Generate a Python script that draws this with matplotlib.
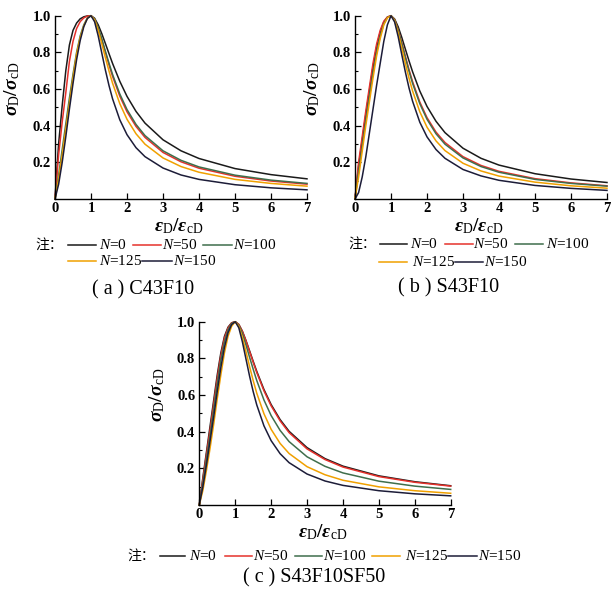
import numpy as np
import matplotlib
matplotlib.use('Agg')
import matplotlib.pyplot as plt
from matplotlib.lines import Line2D
from matplotlib.ticker import FormatStrFormatter

plt.rcParams['font.family'] = ['Liberation Serif', 'Noto Sans CJK SC']
plt.rcParams['mathtext.fontset'] = 'custom'
plt.rcParams['mathtext.rm'] = 'Liberation Serif'
plt.rcParams['mathtext.it'] = 'Liberation Serif:italic'
plt.rcParams['mathtext.bf'] = 'Liberation Serif:bold'
plt.rcParams['mathtext.bfit'] = 'Liberation Serif:bold:italic'

# strain ratio eps_D/eps_cD
x = [0, 0.1, 0.2, 0.3, 0.4, 0.5, 0.6, 0.7, 0.8, 0.9, 1.0,
     1.1, 1.2, 1.3, 1.4, 1.5, 1.6, 1.8, 2.0, 2.25, 2.5, 3.0, 3.5, 4.0, 5.0, 6.0, 7.0]

labels = ['N=0', 'N=50', 'N=100', 'N=125', 'N=150']
colors = ['#1a1a1a', '#e5312b', '#3f6e4c', '#f0a000', '#1c1c38']

# (a) C43F10
c_n0 = [0, 0.30, 0.51, 0.70, 0.84, 0.92, 0.96, 0.983, 0.994, 0.999, 1.0,
        0.986, 0.950, 0.902, 0.848, 0.793, 0.739, 0.642, 0.560, 0.478, 0.414, 0.323, 0.263, 0.221, 0.166, 0.133, 0.110]
c_n50 = [0, 0.24, 0.42, 0.58, 0.75, 0.86, 0.93, 0.968, 0.988, 0.998, 1.0,
         0.980, 0.932, 0.868, 0.799, 0.732, 0.669, 0.561, 0.476, 0.396, 0.336, 0.254, 0.203, 0.168, 0.124, 0.098, 0.081]
c_n100 = [0, 0.13, 0.27, 0.41, 0.55, 0.68, 0.80, 0.89, 0.95, 0.988, 1.0,
          0.981, 0.935, 0.873, 0.806, 0.741, 0.679, 0.573, 0.488, 0.407, 0.346, 0.263, 0.211, 0.175, 0.130, 0.103, 0.085]
c_n125 = [0, 0.11, 0.24, 0.38, 0.52, 0.66, 0.79, 0.88, 0.945, 0.986, 1.0,
          0.977, 0.920, 0.847, 0.771, 0.698, 0.631, 0.520, 0.435, 0.356, 0.299, 0.224, 0.177, 0.146, 0.107, 0.085, 0.070]
c_n150 = [0, 0.08, 0.20, 0.34, 0.49, 0.63, 0.76, 0.865, 0.94, 0.985, 1.0,
          0.967, 0.890, 0.796, 0.703, 0.619, 0.546, 0.432, 0.351, 0.280, 0.231, 0.169, 0.131, 0.107, 0.078, 0.061, 0.050]

# (b) S43F10
s_n0 = [0, 0.18, 0.32, 0.46, 0.59, 0.72, 0.83, 0.91, 0.965, 0.992, 1.0,
        0.982, 0.939, 0.881, 0.817, 0.754, 0.694, 0.589, 0.505, 0.424, 0.362, 0.277, 0.222, 0.185, 0.138, 0.109, 0.090]
s_n50 = [0, 0.20, 0.34, 0.48, 0.61, 0.74, 0.845, 0.92, 0.97, 0.993, 1.0,
         0.978, 0.923, 0.852, 0.778, 0.706, 0.640, 0.529, 0.444, 0.365, 0.308, 0.231, 0.183, 0.151, 0.111, 0.088, 0.072]
s_n100 = [0, 0.15, 0.29, 0.43, 0.56, 0.69, 0.80, 0.89, 0.955, 0.99, 1.0,
          0.977, 0.920, 0.847, 0.771, 0.698, 0.631, 0.520, 0.435, 0.356, 0.299, 0.224, 0.177, 0.146, 0.107, 0.085, 0.070]
s_n125 = [0, 0.12, 0.26, 0.40, 0.53, 0.66, 0.78, 0.875, 0.95, 0.988, 1.0,
          0.973, 0.906, 0.823, 0.738, 0.659, 0.589, 0.476, 0.392, 0.317, 0.264, 0.195, 0.153, 0.125, 0.092, 0.072, 0.059]
s_n150 = [0, 0.035, 0.12, 0.23, 0.36, 0.49, 0.62, 0.74, 0.86, 0.95, 1.0,
          0.966, 0.885, 0.787, 0.692, 0.606, 0.533, 0.419, 0.339, 0.270, 0.222, 0.161, 0.126, 0.102, 0.074, 0.058, 0.047]

# (c) S43F10SF50
f_n0 = [0, 0.15, 0.29, 0.43, 0.57, 0.71, 0.83, 0.92, 0.97, 0.994, 1.0,
        0.985, 0.948, 0.897, 0.841, 0.784, 0.729, 0.630, 0.548, 0.466, 0.402, 0.313, 0.253, 0.212, 0.159, 0.127, 0.105]
f_n50 = [0, 0.14, 0.275, 0.41, 0.55, 0.69, 0.815, 0.91, 0.965, 0.993, 1.0,
         0.985, 0.946, 0.895, 0.837, 0.779, 0.723, 0.623, 0.541, 0.459, 0.395, 0.306, 0.248, 0.207, 0.155, 0.124, 0.103]
f_n100 = [0, 0.12, 0.25, 0.38, 0.52, 0.66, 0.79, 0.89, 0.955, 0.99, 1.0,
          0.981, 0.935, 0.873, 0.806, 0.741, 0.679, 0.573, 0.488, 0.407, 0.346, 0.263, 0.211, 0.175, 0.130, 0.103, 0.085]
f_n125 = [0, 0.08, 0.19, 0.31, 0.44, 0.58, 0.71, 0.83, 0.92, 0.975, 1.0,
          0.975, 0.914, 0.836, 0.755, 0.679, 0.610, 0.498, 0.413, 0.336, 0.281, 0.209, 0.165, 0.135, 0.099, 0.078, 0.064]
f_n150 = [0, 0.10, 0.22, 0.35, 0.48, 0.62, 0.75, 0.86, 0.94, 0.984, 1.0,
          0.967, 0.890, 0.796, 0.703, 0.619, 0.546, 0.432, 0.351, 0.280, 0.231, 0.169, 0.131, 0.107, 0.078, 0.061, 0.050]

W, H = 613, 591
fig = plt.figure(figsize=(W / 100, H / 100), dpi=100)
fig.patch.set_facecolor('white')


def fx(p):
    return p / W


def fy(p):
    return 1 - p / H


def panel(box, curves):
    l, t, r, b = box
    ax = fig.add_axes([fx(l), fy(b), (r - l) / W, (b - t) / H])
    for ys, c in zip(curves, colors):
        ax.plot(x, ys, color=c, lw=1.1, clip_on=False)
    ax.set_xlim(0, 7)
    ax.set_ylim(0, 1)
    ax.set_xticks(range(8))
    ax.set_yticks([0.2, 0.4, 0.6, 0.8, 1.0])
    ax.set_yticks([0.1, 0.3, 0.5, 0.7, 0.9], minor=True)
    ax.yaxis.set_major_formatter(FormatStrFormatter('%.1f'))
    ax.tick_params(direction='in', length=4, width=0.9, labelsize=10.5, pad=3)
    ax.tick_params(axis='y', which='minor', direction='in', length=2.5, width=0.8)
    ax.tick_params(axis='x', pad=2)
    for lab in ax.get_xticklabels() + ax.get_yticklabels():
        lab.set_fontweight('bold')
    for s in ['top', 'right']:
        ax.spines[s].set_visible(False)
    for s in ['left', 'bottom']:
        ax.spines[s].set_linewidth(1.0)
    ax.set_ylabel(r'$\mathbfit{\sigma}_{\mathrm{D}}\mathbf{/}\mathbfit{\sigma}_{\mathrm{cD}}$', fontsize=14)
    ax.set_xlabel(r'$\mathbfit{\varepsilon}_{\mathrm{D}}\mathbf{/}\mathbfit{\varepsilon}_{\mathrm{cD}}$', fontsize=14)
    ax.yaxis.set_label_coords(-0.13, 0.6)
    ax.xaxis.set_label_coords(0.49, -0.095)
    return ax


def key(note_x, note_y, rows):
    fig.text(fx(note_x), fy(note_y), '注：', family=['Noto Sans CJK SC'], fontsize=10, va='center')
    for x0, x1, tx, yy, i in rows:
        fig.add_artist(Line2D([fx(x0), fx(x1)], [fy(yy), fy(yy)], color=colors[i], lw=1.1))
        n, v = labels[i].split('=')
        fig.text(fx(tx), fy(yy), r'$\mathit{N}$=' + v, fontsize=11, va='center')


panel((55, 15.7, 307, 199), [c_n0, c_n50, c_n100, c_n125, c_n150])
panel((355, 15.7, 607, 199), [s_n0, s_n50, s_n100, s_n125, s_n150])
panel((199.3, 321.7, 450.7, 505), [f_n0, f_n50, f_n100, f_n125, f_n150])

key(35, 245, [(68, 96, 99, 245, 0), (133, 161, 162, 245, 1), (203, 232, 233, 245, 2),
              (68, 96, 99, 261, 3), (142, 172, 173, 261, 4)])
key(348, 244, [(380, 407, 410, 244, 0), (445, 473, 473, 244, 1), (515, 543, 546, 244, 2),
               (379, 407, 412, 262, 3), (455, 483, 484, 262, 4)])
key(127, 555.7, [(160, 185, 189, 555.7, 0), (225, 252, 253, 555.7, 1), (295, 322, 323, 555.7, 2),
                 (372, 400, 405, 555.7, 3), (448, 477, 478, 555.7, 4)])

fig.text(fx(143), fy(290), '( a ) C43F10', fontsize=14.5, ha='center', va='center')
fig.text(fx(449), fy(288), '( b ) S43F10', fontsize=14.5, ha='center', va='center')
fig.text(fx(314), fy(578), '( c ) S43F10SF50', fontsize=14.5, ha='center', va='center')

fig.savefig('out.png', dpi=100, facecolor='white')
